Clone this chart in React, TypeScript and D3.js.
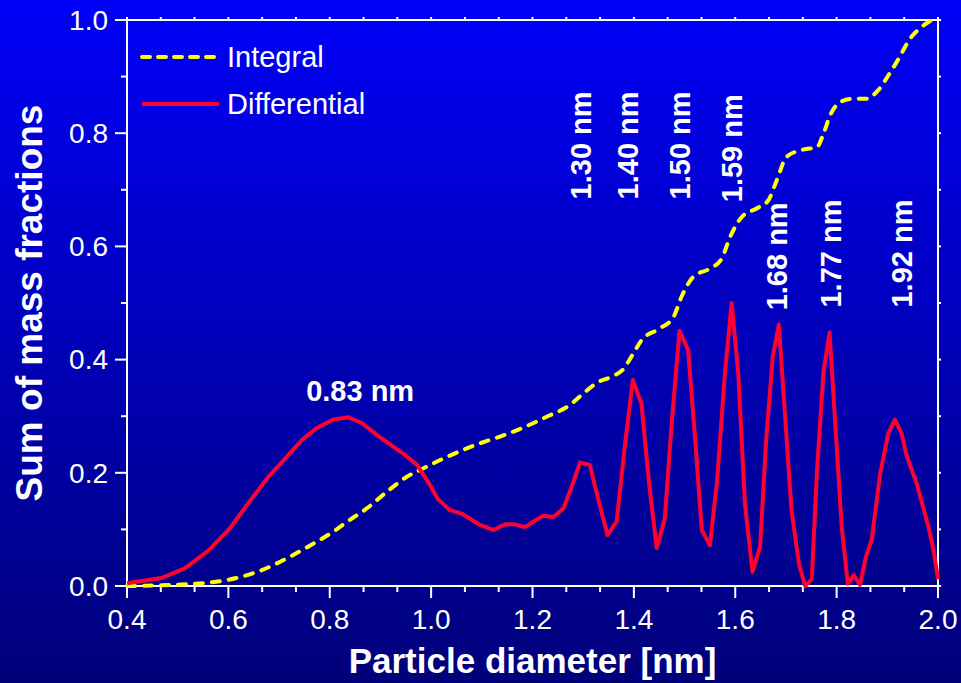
import React from 'react'
import * as d3 from 'd3'

// differential mass fraction (red line)
const diffX = [0.400, 0.468, 0.514, 0.560, 0.603, 0.639, 0.679, 0.712, 0.745, 0.774, 0.807, 0.837, 0.863, 0.893, 0.916, 0.945, 0.972, 0.994, 1.014, 1.037, 1.060, 1.096, 1.123, 1.146, 1.165, 1.185, 1.202, 1.221, 1.241, 1.261, 1.277, 1.294, 1.313, 1.330, 1.348, 1.366, 1.382, 1.398, 1.415, 1.430, 1.445, 1.461, 1.474, 1.490, 1.507, 1.521, 1.534, 1.550, 1.564, 1.580, 1.593, 1.606, 1.619, 1.634, 1.649, 1.661, 1.674, 1.686, 1.711, 1.726, 1.738, 1.751, 1.761, 1.774, 1.786, 1.810, 1.822, 1.834, 1.846, 1.858, 1.869, 1.886, 1.902, 1.915, 1.928, 1.938, 1.958, 1.981, 1.991, 2.000]
const diffY = [0.005, 0.014, 0.031, 0.062, 0.102, 0.146, 0.193, 0.225, 0.258, 0.279, 0.294, 0.298, 0.288, 0.267, 0.252, 0.234, 0.214, 0.184, 0.153, 0.134, 0.128, 0.108, 0.099, 0.109, 0.109, 0.104, 0.114, 0.124, 0.122, 0.137, 0.175, 0.218, 0.214, 0.152, 0.090, 0.114, 0.246, 0.364, 0.322, 0.181, 0.067, 0.119, 0.281, 0.451, 0.417, 0.258, 0.099, 0.072, 0.184, 0.381, 0.500, 0.375, 0.146, 0.025, 0.069, 0.258, 0.405, 0.462, 0.134, 0.037, 0.000, 0.012, 0.199, 0.378, 0.448, 0.105, 0.004, 0.019, 0.002, 0.052, 0.081, 0.199, 0.270, 0.294, 0.270, 0.231, 0.181, 0.105, 0.064, 0.012]

// integral (yellow dashed line)
const intX = [0.400, 0.460, 0.518, 0.600, 0.666, 0.722, 0.768, 0.807, 0.840, 0.873, 0.912, 0.952, 0.985, 1.031, 1.096, 1.136, 1.182, 1.228, 1.274, 1.300, 1.327, 1.359, 1.379, 1.399, 1.415, 1.451, 1.478, 1.494, 1.517, 1.550, 1.573, 1.590, 1.613, 1.642, 1.665, 1.682, 1.701, 1.734, 1.761, 1.774, 1.787, 1.807, 1.833, 1.859, 1.882, 1.902, 1.922, 1.945, 1.964, 1.988]
const intY = [0.000, 0.001, 0.003, 0.011, 0.028, 0.052, 0.075, 0.096, 0.117, 0.137, 0.166, 0.193, 0.208, 0.228, 0.252, 0.264, 0.280, 0.299, 0.320, 0.340, 0.359, 0.371, 0.383, 0.411, 0.434, 0.455, 0.475, 0.511, 0.546, 0.561, 0.578, 0.617, 0.652, 0.667, 0.681, 0.717, 0.758, 0.771, 0.775, 0.799, 0.831, 0.855, 0.861, 0.861, 0.876, 0.902, 0.931, 0.967, 0.985, 1.000]

// peak labels
const peakLabels = ['1.30 nm', '1.40 nm', '1.50 nm', '1.59 nm', '1.68 nm', '1.77 nm', '1.92 nm']
const peakX = [1.295, 1.388, 1.491, 1.593, 1.682, 1.788, 1.928]
const peakBottom = [0.683, 0.683, 0.683, 0.678, 0.487, 0.492, 0.492]

const xMajor = [0.4, 0.6, 0.8, 1.0, 1.2, 1.4, 1.6, 1.8, 2.0]
const yMajor = [0.0, 0.2, 0.4, 0.6, 0.8, 1.0]

const W = 961
const H = 683
const margin = { left: 127, right: 23, top: 20, bottom: 97 }
const font = 'Liberation Sans, Arial, Helvetica, sans-serif'

export default function App() {
  const x = d3.scaleLinear().domain([0.4, 2.0]).range([margin.left, W - margin.right])
  const y = d3.scaleLinear().domain([0, 1]).range([H - margin.bottom, margin.top])

  const xMinor = d3.range(0, 25).map(i => 0.4 + i * 0.2 / 3)
  const yMinor = d3.range(0, 11).map(i => i * 0.1)

  const diffLine = d3.line<number>()
    .x((d, i) => x(diffX[i]))
    .y(d => y(d))
  const intLine = d3.line<number>()
    .x((d, i) => x(intX[i]))
    .y(d => y(d))
    .curve(d3.curveMonotoneX)

  const x0 = x(0.4), x1 = x(2.0), y0 = y(0), y1 = y(1)

  return (
    <svg width={W} height={H} style={{ position: 'absolute', left: 0, top: 0, display: 'block' }} fontFamily={font}>
      <defs>
        <linearGradient id="bg" x1="0" y1="0" x2="0" y2="1">
          <stop offset="0" stopColor="#0000f8" />
          <stop offset="1" stopColor="#00007a" />
        </linearGradient>
      </defs>
      <rect width={W} height={H} fill="url(#bg)" />

      {/* frame */}
      <g stroke="#fff" strokeWidth={2} fill="none">
        <line x1={x0 - 12} x2={x1 + 1} y1={y1} y2={y1} />
        <line x1={x1} x2={x1} y1={y1 - 3} y2={y0} />
        <line x1={x0} x2={x0} y1={y1} y2={y0 + 12} />
        <line x1={x0 - 12} x2={x1} y1={y0} y2={y0} />
        {xMinor.map((v, i) => {
          const major = i % 3 === 0
          return <line key={'xb' + i} x1={x(v)} x2={x(v)} y1={y0} y2={y0 + (major ? 12 : 6)} />
        })}
        {xMinor.map((v, i) => <line key={'xt' + i} x1={x(v)} x2={x(v)} y1={y1} y2={y1 - 3} />)}
        {yMinor.map((v, i) => {
          const major = i % 2 === 0
          return <line key={'yl' + i} x1={x0} x2={x0 - (major ? 12 : 6)} y1={y(v)} y2={y(v)} />
        })}
        {yMinor.map((v, i) => <line key={'yr' + i} x1={x1} x2={x1 + 3} y1={y(v)} y2={y(v)} />)}
      </g>

      {/* tick labels */}
      <g fill="#fff" fontSize={28}>
        {xMajor.map(v => (
          <text key={'xl' + v} x={x(v)} y={y0 + 43} textAnchor="middle">{v.toFixed(1)}</text>
        ))}
        {yMajor.map(v => (
          <text key={'yl' + v} x={x0 - 19} y={y(v)} dy="0.35em" textAnchor="end">{v.toFixed(1)}</text>
        ))}
      </g>

      {/* axis titles */}
      <text x={(x0 + x1) / 2} y={673} fill="#fff" fontSize={35} fontWeight="bold" textAnchor="middle">Particle diameter [nm]</text>
      <text transform={`translate(42,${(y0 + y1) / 2}) rotate(-90)`} fill="#fff" fontSize={37} fontWeight="bold" textAnchor="middle">Sum of mass fractions</text>

      {/* data */}
      <path d={intLine(intY) || ''} fill="none" stroke="#ffff00" strokeWidth={4} strokeDasharray="8,9" strokeLinecap="round" />
      <path d={diffLine(diffY) || ''} fill="none" stroke="#ff0030" strokeWidth={4} strokeLinejoin="round" />

      {/* legend */}
      <line x1={142} x2={219} y1={57} y2={57} stroke="#ffff00" strokeWidth={4} strokeDasharray="8,8" strokeLinecap="round" />
      <text x={227} y={67} fill="#fff" fontSize={29}>Integral</text>
      <line x1={142} x2={219} y1={104} y2={104} stroke="#ff0030" strokeWidth={4} />
      <text x={227} y={114} fill="#fff" fontSize={29}>Differential</text>

      {/* annotations */}
      <text x={x(0.86)} y={y(0.327)} fill="#fff" fontSize={29} fontWeight="bold" textAnchor="middle">0.83 nm</text>
      {peakLabels.map((t, i) => (
        <text key={t} transform={`translate(${x(peakX[i])},${y(peakBottom[i])}) rotate(-90)`} dy="0.35em" fill="#fff" fontSize={29} fontWeight="bold">{t}</text>
      ))}
    </svg>
  )
}
